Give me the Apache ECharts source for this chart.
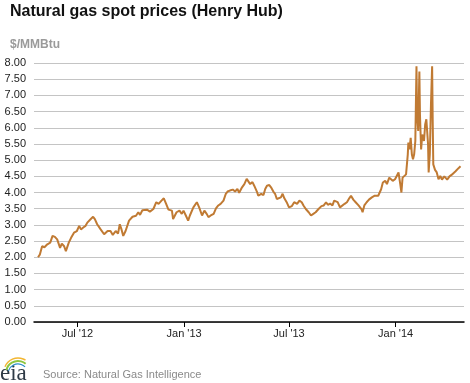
<!DOCTYPE html>
<html>
<head>
<meta charset="utf-8">
<script src="https://cdn.jsdelivr.net/npm/echarts@6/dist/echarts.min.js"></script>
<style>
html,body{margin:0;padding:0;background:#fff;}
#chart{width:470px;height:383px;}
</style>
</head>
<body>
<div id="chart"></div>
<script>
const dates = [
'2012-04-24','2012-04-27','2012-05-01','2012-05-05','2012-05-10','2012-05-15','2012-05-19','2012-05-23','2012-05-25','2012-05-27',
'2012-06-01','2012-06-04','2012-06-08','2012-06-11','2012-06-13','2012-06-16','2012-06-20','2012-06-25','2012-06-30','2012-07-04',
'2012-07-07','2012-07-11','2012-07-15','2012-07-18','2012-07-21','2012-07-24','2012-07-28','2012-07-31','2012-08-04','2012-08-10',
'2012-08-16','2012-08-22','2012-08-27','2012-08-31','2012-09-05','2012-09-09','2012-09-12','2012-09-15','2012-09-18','2012-09-22',
'2012-09-28','2012-10-04','2012-10-10','2012-10-14','2012-10-17','2012-10-21','2012-10-24','2012-10-29','2012-11-03','2012-11-09',
'2012-11-14','2012-11-18','2012-11-23','2012-11-27','2012-12-01','2012-12-05','2012-12-11','2012-12-13','2012-12-19','2012-12-24',
'2012-12-28','2012-12-31','2013-01-04','2013-01-08','2013-01-11','2013-01-17','2013-01-23','2013-01-27','2013-02-01','2013-02-05',
'2013-02-09','2013-02-12','2013-02-16','2013-02-21','2013-02-25','2013-03-01','2013-03-05','2013-03-10','2013-03-14','2013-03-17',
'2013-03-21','2013-03-26','2013-03-30','2013-04-03','2013-04-06','2013-04-11','2013-04-15','2013-04-19','2013-04-22','2013-04-25',
'2013-04-29','2013-05-02','2013-05-07','2013-05-09','2013-05-14','2013-05-18','2013-05-21','2013-05-24','2013-05-28','2013-05-31',
'2013-06-04','2013-06-07','2013-06-10','2013-06-13','2013-06-17','2013-06-20','2013-06-23','2013-06-27','2013-07-01','2013-07-06',
'2013-07-10','2013-07-15','2013-07-19','2013-07-23','2013-07-26','2013-07-30','2013-08-04','2013-08-08','2013-08-12','2013-08-16',
'2013-08-21','2013-08-26','2013-08-30','2013-09-03','2013-09-06','2013-09-10','2013-09-14','2013-09-17','2013-09-20','2013-09-23',
'2013-09-27','2013-09-30','2013-10-05','2013-10-09','2013-10-13','2013-10-16','2013-10-20','2013-10-24','2013-10-29','2013-11-03',
'2013-11-05','2013-11-08','2013-11-12','2013-11-16','2013-11-21','2013-11-26','2013-12-02','2013-12-07','2013-12-10','2013-12-14',
'2013-12-17','2013-12-21','2013-12-24','2013-12-27','2013-12-31','2014-01-03','2014-01-06','2014-01-09','2014-01-11','2014-01-13',
'2014-01-16','2014-01-19','2014-01-22','2014-01-23','2014-01-25','2014-01-27','2014-01-29','2014-01-31','2014-02-02','2014-02-04',
'2014-02-06','2014-02-07','2014-02-09','2014-02-11','2014-02-12','2014-02-14','2014-02-16','2014-02-19','2014-02-21','2014-02-23',
'2014-02-25','2014-02-26','2014-02-27','2014-03-01','2014-03-03','2014-03-05','2014-03-06','2014-03-07','2014-03-10','2014-03-13',
'2014-03-16','2014-03-19','2014-03-22','2014-03-26','2014-03-31','2014-04-04','2014-04-08','2014-04-14','2014-04-17','2014-04-20',
'2014-04-23'
];
const prices = [
2.00,2.08,2.34,2.31,2.40,2.45,2.66,2.63,2.69,2.55,
2.29,2.42,2.34,2.19,2.24,2.45,2.60,2.76,2.81,2.97,
2.86,2.92,2.97,3.07,3.13,3.18,3.25,3.18,3.02,2.86,
2.71,2.81,2.81,2.69,2.81,2.73,3.02,2.86,2.66,2.81,
3.13,3.25,3.28,3.39,3.31,3.45,3.45,3.47,3.41,3.49,
3.70,3.65,3.75,3.82,3.65,3.47,3.44,3.18,3.39,3.44,
3.34,3.44,3.29,3.13,3.29,3.54,3.70,3.54,3.29,3.44,
3.34,3.24,3.29,3.34,3.51,3.60,3.65,3.75,3.96,4.03,
4.06,4.09,4.03,4.11,3.99,4.16,4.26,4.42,4.36,4.26,
4.32,4.21,4.01,3.90,3.96,3.92,4.11,4.21,4.23,4.16,
4.03,3.96,3.80,3.75,3.85,3.96,3.82,3.70,3.54,3.58,
3.70,3.65,3.75,3.70,3.60,3.49,3.39,3.29,3.34,3.39,
3.49,3.58,3.60,3.70,3.62,3.66,3.60,3.75,3.78,3.70,
3.54,3.51,3.65,3.70,3.82,3.90,3.78,3.70,3.60,3.49,
3.39,3.60,3.70,3.78,3.85,3.90,3.90,4.10,4.31,4.36,
4.26,4.46,4.41,4.36,4.41,4.36,4.62,4.26,4.00,4.46,
4.51,4.56,5.18,5.54,5.33,5.69,5.18,5.03,5.18,5.59,
7.90,6.41,5.90,7.74,6.41,5.33,5.79,5.59,6.10,6.26,
6.21,5.49,4.62,5.18,6.72,7.90,6.21,4.87,4.70,4.62,
4.41,4.51,4.40,4.50,4.40,4.50,4.55,4.65,4.60,4.76,
4.81
];
const xTickDates = ['2012-07-01','2013-01-01','2013-07-01','2014-01-01'];
const xTickLabels = ["Jul '12","Jan '13","Jul '13","Jan '14"];
const xRange = ['2012-04-17','2014-04-29'];
const yMin = 0, yMax = 8, yStep = 0.5;

function ts(s){ const p = s.split('-').map(Number); return Date.UTC(p[0], p[1]-1, p[2]); }
const tickTs = xTickDates.map(ts);

const chart = echarts.init(document.getElementById('chart'), null, {renderer:'canvas'});
const FONT = 'Arial, "Liberation Sans", Helvetica, sans-serif';
chart.setOption({
  animation: false,
  backgroundColor: '#fff',
  title: [
    {text: 'Natural gas spot prices (Henry Hub)', left: 5, top: -1,
     textStyle: {fontFamily: FONT, fontSize: 16, fontWeight: 'bold', color: '#111'}},
    {text: '$/MMBtu', left: 5, top: 34,
     textStyle: {fontFamily: FONT, fontSize: 12, fontWeight: 'bold', color: '#9a9a9a'}},
    {text: 'Source: Natural Gas Intelligence', left: 38, top: 364,
     textStyle: {fontFamily: FONT, fontSize: 11, fontWeight: 'normal', color: '#8a8a8a'}}
  ],
  graphic: [
    {type: 'text', left: 0, top: 362, style: {text: 'eia', fontFamily: '"Liberation Serif", "DejaVu Serif", serif', fontSize: 23, fill: '#2e3a46'}},
    {type: 'arc', shape: {cx: 18, cy: 372, r: 14, startAngle: -Math.PI*0.88, endAngle: -Math.PI*0.32}, style: {stroke: '#f2b632', lineWidth: 1.5, fill: null}},
    {type: 'arc', shape: {cx: 18, cy: 373, r: 12, startAngle: -Math.PI*0.92, endAngle: -Math.PI*0.28}, style: {stroke: '#8cc63f', lineWidth: 2, fill: null}},
    {type: 'arc', shape: {cx: 18, cy: 374, r: 10, startAngle: -Math.PI*0.9, endAngle: -Math.PI*0.25}, style: {stroke: '#2a8dc8', lineWidth: 1.2, fill: null}}
  ],
  grid: {left: 34, right: 6, top: 63, bottom: 61, containLabel: false},
  xAxis: {
    type: 'value',
    min: ts(xRange[0]), max: ts(xRange[1]),
    axisLine: {show: true, lineStyle: {color: '#000', width: 1.5}},
    axisTick: {show: true, customValues: tickTs, length: 5, lineStyle: {color: '#000', width: 1}},
    axisLabel: {
      customValues: tickTs,
      formatter: function(v){ const i = tickTs.indexOf(v); return i >= 0 ? xTickLabels[i] : ''; },
      fontFamily: FONT, fontSize: 11, color: '#222', margin: 6
    },
    splitLine: {show: false}
  },
  yAxis: {
    type: 'value', min: yMin, max: yMax, interval: yStep,
    axisLine: {show: false}, axisTick: {show: false},
    axisLabel: {formatter: v => v.toFixed(2), fontFamily: FONT, fontSize: 11, color: '#222', margin: 8},
    splitLine: {show: true, lineStyle: {color: '#c4c4c4', width: 1}}
  },
  series: [{
    type: 'line',
    data: dates.map((d, i) => [ts(d), prices[i]]),
    showSymbol: false,
    lineStyle: {color: '#c07a33', width: 2},
    itemStyle: {color: '#c07a33'}
  }]
});
</script>
</body>
</html>
